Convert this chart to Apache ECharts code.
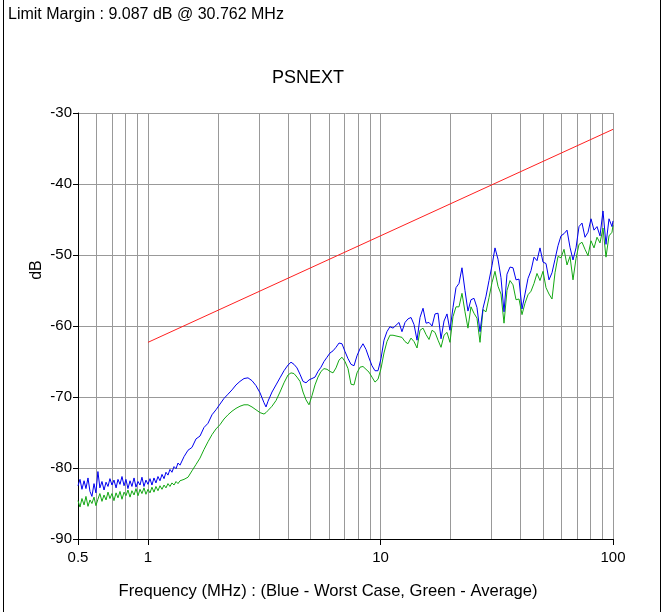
<!DOCTYPE html>
<html>
<head>
<meta charset="utf-8">
<script src="https://cdn.jsdelivr.net/npm/echarts@6/dist/echarts.min.js"></script>
<style>
html,body{margin:0;padding:0;background:#fff;}
#chart{width:667px;height:612px;}
</style>
</head>
<body>
<div id="chart"></div>
<script>
// Frequencies (MHz)
var freq = [
0.500,0.510,0.520,0.531,0.541,0.552,0.563,0.574,0.586,0.597,0.609,0.621,0.634,0.647,0.660,0.673,0.686,0.700,0.714,0.729,0.743,0.758,0.773,0.789,0.804,0.820,0.837,0.853,0.871,0.888,0.906,0.924,0.942,0.961,0.980,1.000,1.020,1.040,1.061,1.082,1.104,1.126,1.149,1.172,1.195,1.219,1.243,1.268,1.294,1.320,1.346,1.373,
1.429,1.486,1.546,1.609,1.674,1.741,1.812,1.885,1.961,2.040,2.123,2.209,2.298,2.391,2.487,2.588,2.692,2.801,2.914,3.032,3.154,3.218,3.282,3.415,3.553,3.696,3.846,4.001,
4.122,4.246,4.374,4.506,4.642,4.782,4.926,5.075,5.228,5.385,5.548,5.715,5.888,6.065,6.248,6.437,6.631,6.831,7.037,7.249,7.468,7.691,7.924,8.163,8.409,8.663,8.924,9.193,9.470,9.755,10.05,10.35,10.66,10.98,11.32,11.66,12.01,
12.37,12.75,13.13,13.53,13.94,14.36,14.79,15.24,15.70,16.17,16.66,17.16,17.68,18.21,18.76,19.32,19.90,20.50,21.12,21.76,22.41,23.09,23.78,24.50,25.24,26.00,26.79,27.60,28.43,29.29,30.17,31.08,32.02,32.98,33.98,35.00,36.06,37.15,38.27,39.42,40.61,41.83,43.10,44.40,45.74,47.11,48.53,50.00,51.51,53.06,54.66,56.31,58.00,59.76,61.56,63.41,65.32,67.30,69.33,71.42,73.57,75.79,78.07,80.43,82.85,85.35,87.92,90.57,93.30,96.12,99.01,100.0
];
// Worst case (blue), dB
var worstCase = [
-82.5,-81.6,-83.0,-81.8,-82.9,-81.4,-83.3,-84.0,-82.2,-83.5,-80.5,-82.8,-81.9,-83.1,-82.0,-82.6,-81.5,-82.4,-81.7,-82.8,-81.6,-82.3,-81.2,-82.5,-81.6,-82.9,-81.8,-82.6,-81.4,-82.7,-81.9,-82.4,-81.3,-82.6,-81.7,-82.3,-81.5,-82.4,-81.4,-82.1,-81.2,-81.8,-80.9,-81.5,-80.6,-81.0,-80.2,-80.6,-79.8,-80.1,-79.3,-79.6,
-78.4,-77.5,-77.1,-75.9,-75.5,-74.3,-73.7,-72.5,-71.8,-71.0,-70.2,-69.6,-69.0,-68.3,-67.8,-67.4,-67.3,-67.7,-68.4,-69.4,-70.8,-71.4,-70.6,-69.3,-68.3,-67.3,-66.3,-65.5,
-65.1,-65.4,-65.9,-66.8,-67.8,-68.0,-67.6,-67.4,-67.2,-66.4,-65.8,-65.0,-64.4,-63.8,-63.5,-63.0,-62.4,-62.5,-63.6,-64.6,-65.4,-65.6,-64.2,-63.2,-62.5,-63.3,-64.5,-65.6,-66.3,-66.3,-64.6,-62.0,-60.8,-60.1,-60.3,-59.9,-59.5,
-60.8,-59.5,-59.0,-58.8,-59.8,-62.0,-58.8,-57.5,-59.6,-59.5,-60.0,-58.3,-58.2,-61.8,-59.3,-58.3,-60.6,-57.4,-54.6,-54.0,-51.8,-55.0,-57.9,-56.3,-56.1,-57.4,-60.8,-57.5,-55.8,-53.6,-51.5,-49.0,-50.6,-53.2,-58.0,-52.7,-51.7,-51.8,-53.5,-53.4,-57.6,-55.5,-53.3,-52.2,-50.3,-50.8,-49.0,-51.0,-51.2,-53.5,-52.5,-50.6,-48.7,-47.3,-47.0,-46.5,-48.9,-50.7,-49.0,-46.0,-45.5,-47.5,-46.8,-44.9,-46.5,-46.0,-47.3,-43.8,-48.5,-44.9,-46.0,-45.2
];
// Average (green), dB
var average = [
-84.6,-85.5,-84.3,-85.2,-84.0,-85.4,-84.5,-85.0,-84.1,-85.3,-84.4,-83.6,-84.7,-83.8,-84.5,-83.4,-84.3,-83.6,-84.6,-83.5,-84.2,-83.3,-84.4,-83.4,-83.9,-83.1,-84.1,-83.2,-83.8,-82.9,-83.9,-83.0,-83.6,-82.8,-83.7,-83.0,-83.5,-82.7,-83.4,-82.6,-83.2,-82.5,-83.0,-82.4,-82.8,-82.2,-82.6,-82.1,-82.4,-81.9,-82.2,-81.8,
-81.6,-81.3,-80.4,-79.5,-78.6,-77.4,-76.3,-75.3,-74.5,-73.9,-73.1,-72.5,-72.0,-71.6,-71.3,-71.1,-71.1,-71.4,-71.8,-72.2,-72.4,-72.2,-71.9,-71.3,-70.5,-69.3,-68.0,-66.9,
-66.6,-66.7,-67.2,-67.8,-69.3,-70.4,-71.1,-69.8,-68.3,-67.2,-66.4,-66.0,-66.1,-66.4,-66.6,-65.9,-64.8,-64.4,-65.0,-66.0,-68.2,-68.3,-66.6,-65.8,-65.7,-66.1,-66.5,-67.2,-67.9,-67.5,-66.0,-63.8,-62.2,-61.3,-61.3,-61.4,-61.5,
-61.6,-62.2,-62.5,-61.7,-62.2,-63.1,-60.6,-60.3,-61.2,-61.9,-60.6,-60.9,-62.0,-63.0,-61.3,-60.9,-62.3,-58.7,-57.3,-57.3,-55.4,-58.0,-60.3,-57.3,-58.2,-58.9,-62.3,-57.7,-58.0,-56.0,-53.9,-52.3,-54.4,-55.5,-59.6,-55.0,-53.6,-54.2,-56.3,-56.2,-58.4,-56.8,-55.6,-55.1,-54.0,-52.6,-53.6,-52.3,-54.6,-55.5,-56.2,-52.5,-50.2,-50.4,-49.2,-51.4,-50.2,-53.5,-50.5,-48.5,-48.2,-49.2,-50.1,-48.0,-49.0,-47.5,-48.3,-46.2,-50.3,-47.3,-46.8,-45.8
];
// Limit line
var limitFreq = [1, 100];
var limitDb = [-62.3, -32.3];
// Minor grid frequencies
var minorGrid = [0.6,0.7,0.8,0.9,2,3,4,5,6,7,8,9,20,30,40,50,60,70,80,90];
var yTicks = [-90,-80,-70,-60,-50,-40,-30];

var headerText = 'Limit Margin : 9.087 dB @ 30.762 MHz';
var titleText = 'PSNEXT';
var xName = 'Frequency (MHz) : (Blue - Worst Case, Green - Average)';
var yName = 'dB';

var FONT = '"Liberation Sans", Arial, sans-serif';
var chart = echarts.init(document.getElementById('chart'), null, {renderer: 'canvas'});

function pairs(xs, ys){ return xs.map(function(x,i){ return [x, ys[i]]; }); }

var option = {
  animation: false,
  backgroundColor: '#ffffff',
  grid: {left: 78, top: 113, width: 535, height: 426, containLabel: false},
  xAxis: {
    type: 'log', logBase: 10, min: 0.5, max: 100,
    axisLine: {show: true, onZero: false, lineStyle: {color: '#000', width: 1}},
    axisTick: {show: true, length: 6, lineStyle: {color: '#000'}},
    axisLabel: {color: '#000', fontSize: 15, fontFamily: FONT, margin: 11,
      formatter: function(v){ return String(Math.round(v*10)/10); }},
    splitLine: {show: true, lineStyle: {color: '#999999', width: 1}}
  },
  yAxis: {
    type: 'value', min: yTicks[0], max: yTicks[yTicks.length-1], interval: 10,
    axisLine: {show: true, onZero: false, lineStyle: {color: '#000', width: 1}},
    axisTick: {show: true, length: 5, lineStyle: {color: '#000'}},
    axisLabel: {color: '#000', fontSize: 15, fontFamily: FONT, margin: 6},
    splitLine: {show: true, lineStyle: {color: '#999999', width: 1}}
  },
  graphic: [
    {type: 'line', shape: {x1: 3.5, y1: 0, x2: 3.5, y2: 612}, style: {stroke: '#000', lineWidth: 1}},
    {type: 'line', shape: {x1: 660.5, y1: 0, x2: 660.5, y2: 612}, style: {stroke: '#000', lineWidth: 1}},
    {type: 'text', x: 8, y: 14.5, style: {text: headerText, font: '16px ' + FONT, fill: '#000', textVerticalAlign: 'middle'}},
    {type: 'text', x: 308, y: 78, style: {text: titleText, font: '18px ' + FONT, fill: '#000', textAlign: 'center', textVerticalAlign: 'middle'}},
    {type: 'text', x: 328, y: 591, style: {text: xName, font: '16.6px ' + FONT, fill: '#000', textAlign: 'center', textVerticalAlign: 'middle'}},
    {type: 'text', x: 37, y: 270, rotation: Math.PI/2, style: {text: yName, font: '16px ' + FONT, fill: '#000', textAlign: 'center', textVerticalAlign: 'middle'}}
  ],
  series: [
    {
      name: 'Limit', type: 'line', showSymbol: false, symbol: 'none', z: 3,
      data: pairs(limitFreq, limitDb),
      lineStyle: {color: '#ff2020', width: 1},
      markLine: {
        silent: true, symbol: ['none','none'], z: 1,
        label: {show: false},
        lineStyle: {color: '#999999', width: 1, type: 'solid'},
        data: minorGrid.map(function(f){ return {xAxis: f}; })
      }
    },
    {
      name: 'Average', type: 'line', showSymbol: false, symbol: 'none', z: 4,
      data: pairs(freq, average),
      lineStyle: {color: '#14a814', width: 1}
    },
    {
      name: 'Worst Case', type: 'line', showSymbol: false, symbol: 'none', z: 5,
      data: pairs(freq, worstCase),
      lineStyle: {color: '#0000f0', width: 1}
    }
  ]
};
chart.setOption(option);
</script>
</body>
</html>
